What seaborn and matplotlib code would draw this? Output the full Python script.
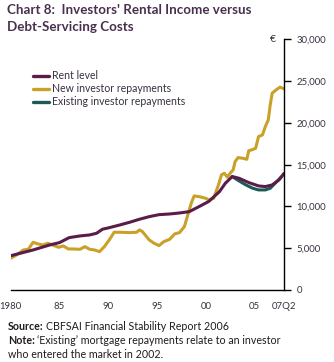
import matplotlib
matplotlib.use("Agg")
import matplotlib.pyplot as plt
import seaborn as sns
import pandas as pd
from matplotlib.lines import Line2D
from matplotlib.ticker import FuncFormatter

sns.set_style("white")
plt.rcParams['font.family'] = ['Lato', 'DejaVu Sans']

# ---------------- data ----------------
rent_years = [1980.0, 1982.3, 1984.0, 1985.0, 1986.0, 1987.1, 1988.1, 1988.8, 1989.4, 1990.1,
              1991.2, 1992.2, 1993.2, 1994.2, 1995.2, 1996.3, 1997.3, 1998.3, 1999.3, 2000.3,
              2001.4, 2002.0, 2002.7, 2003.4, 2004.4, 2005.4, 2006.1, 2006.8, 2007.5, 2008.0]
rent_values = [4100, 4790, 5390, 5670, 6270, 6470, 6590, 6790, 7270, 7460,
               7790, 8110, 8470, 8780, 9020, 9100, 9220, 9380, 9980, 10600,
               11780, 12780, 13580, 13380, 12860, 12460, 12380, 12580, 13180, 13950]

new_years = [1980.0, 1980.6, 1981.3, 1981.8, 1982.3, 1982.8, 1983.3, 1983.8, 1984.3, 1984.9,
             1985.4, 1985.9, 1986.4, 1987.1, 1987.6, 1988.1, 1988.6, 1989.1, 1989.6, 1990.1,
             1990.6, 1991.2, 1992.2, 1992.9, 1993.2, 1993.5, 1994.2, 1994.7, 1995.2, 1995.7,
             1996.3, 1996.8, 1997.3, 1997.8, 1998.1, 1998.5, 1998.8, 1999.3, 2000.0, 2000.3,
             2000.8, 2001.3, 2001.6, 2001.9, 2002.2, 2002.5, 2002.8, 2003.0, 2003.3, 2003.8,
             2004.2, 2004.4, 2004.7, 2005.1, 2005.4, 2005.8, 2006.1, 2006.4, 2006.6, 2006.8,
             2007.2, 2007.6, 2008.0]
new_values = [3800, 4190, 4790, 4870, 5710, 5510, 5390, 5590, 5390, 5110,
              5270, 4910, 4910, 4870, 5190, 4870, 4790, 4590, 5190, 5990,
              6910, 6910, 6870, 6910, 7190, 6990, 5990, 5590, 5310, 5790,
              6070, 6710, 6870, 7580, 8780, 10380, 11260, 11180, 10980, 10780,
              10980, 12600, 13780, 13980, 13500, 14000, 14380, 15370, 15850, 15770,
              15650, 16690, 16770, 16970, 18370, 18570, 19570, 20370, 22170, 23570,
              23960, 24290, 24100]

exist_years = [2002.7, 2003.4, 2004.1, 2004.8, 2005.4, 2006.1, 2006.6, 2007.1, 2007.5, 2007.8]
exist_values = [13580, 13060, 12580, 12180, 11980, 11980, 12180, 12780, 13260, 13600]

series_names = ["Rent level", "New investor repayments", "Existing investor repayments"]
x_tick_years = list(range(1980, 2009))
x_tick_labels = {1980: "1980", 1985: "85", 1990: "90", 1995: "95", 2000: "00", 2005: "05", 2008: "07Q2"}
y_ticks = [0, 5000, 10000, 15000, 20000, 25000, 30000]

c_rent = "#5a1c48"
c_new = "#c9a028"
c_exist = "#1c5a58"
text_col = "#3a3040"

df_rent = pd.DataFrame({"year": rent_years, "value": rent_values})
df_new = pd.DataFrame({"year": new_years, "value": new_values})
df_exist = pd.DataFrame({"year": exist_years, "value": exist_values})

# ---------------- figure ----------------
fig = plt.figure(figsize=(3.34, 3.62), dpi=100)
ax = fig.add_axes([0.032, 0.199, 0.818, 0.692])

lw = 2.2
sns.lineplot(data=df_new, x="year", y="value", color=c_new, linewidth=lw, ax=ax,
             estimator=None, sort=False)
sns.lineplot(data=df_exist, x="year", y="value", color=c_exist, linewidth=lw, ax=ax,
             estimator=None, sort=False)
sns.lineplot(data=df_rent, x="year", y="value", color=c_rent, linewidth=lw, ax=ax,
             estimator=None, sort=False)

ax.set_xlim(1980, 2008)
ax.set_ylim(0, 30000)
ax.set_xlabel("")
ax.set_ylabel("")

for s in ["top", "left"]:
    ax.spines[s].set_visible(False)
for s in ["right", "bottom"]:
    ax.spines[s].set_color("black")
    ax.spines[s].set_linewidth(1.0)

ax.yaxis.tick_right()
ax.set_yticks(y_ticks)
ax.yaxis.set_major_formatter(FuncFormatter(lambda v, p: f"{int(v):,}"))
ax.tick_params(axis="y", direction="out", length=5, width=1, pad=4,
               labelsize=6.9, colors="black", labelcolor=text_col)
ax.set_xticks(x_tick_years)
ax.set_xticklabels([x_tick_labels.get(y, "") for y in x_tick_years])
ax.tick_params(axis="x", direction="out", length=6, width=1, pad=3,
               labelsize=6.9, colors="black", labelcolor=text_col)

# legend
handles = [Line2D([], [], color=c, linewidth=2.4) for c in (c_rent, c_new, c_exist)]
fig.legend(handles, series_names, loc="upper left", bbox_to_anchor=(0.10, 0.806),
           frameon=False, fontsize=7.6, handlelength=1.5, handletextpad=0.25,
           labelspacing=0.2, borderaxespad=0, borderpad=0, labelcolor=text_col)

# euro unit
fig.text(273 / 334, 1 - 39 / 362, "€", ha="center", va="center", fontsize=7.5, color=text_col)

# title
title_col = "#48304e"
fig.text(7 / 334, 1 - 10 / 362, "Chart 8:  Investors' Rental Income versus", ha="left", va="center",
         fontsize=9.6, fontweight="bold", color=title_col)
fig.text(7 / 334, 1 - 27 / 362, "Debt-Servicing Costs", ha="left", va="center",
         fontsize=9.6, fontweight="bold", color=title_col)

# footnotes
renderer = fig.canvas.get_renderer()
fs_note = 7.7
def bold_then_normal(x_px, y_px, bold, rest):
    t = fig.text(x_px / 334, 1 - y_px / 362, bold, ha="left", va="center", fontsize=fs_note,
                 fontweight="bold", color="#201a20")
    bb = t.get_window_extent(renderer=renderer)
    fig.text((bb.x1 + 2.5) / 334, 1 - y_px / 362, rest, ha="left", va="center", fontsize=fs_note,
             color="#201a20")

bold_then_normal(8, 326, "Source:", "CBFSAI Financial Stability Report 2006")
bold_then_normal(8, 341, "Note:", "\u2018Existing\u2019 mortgage repayments relate to an investor")
fig.text(8 / 334, 1 - 355 / 362, "who entered the market in 2002.", ha="left", va="center",
         fontsize=fs_note, color="#201a20")

fig.savefig("out.png", dpi=100)
